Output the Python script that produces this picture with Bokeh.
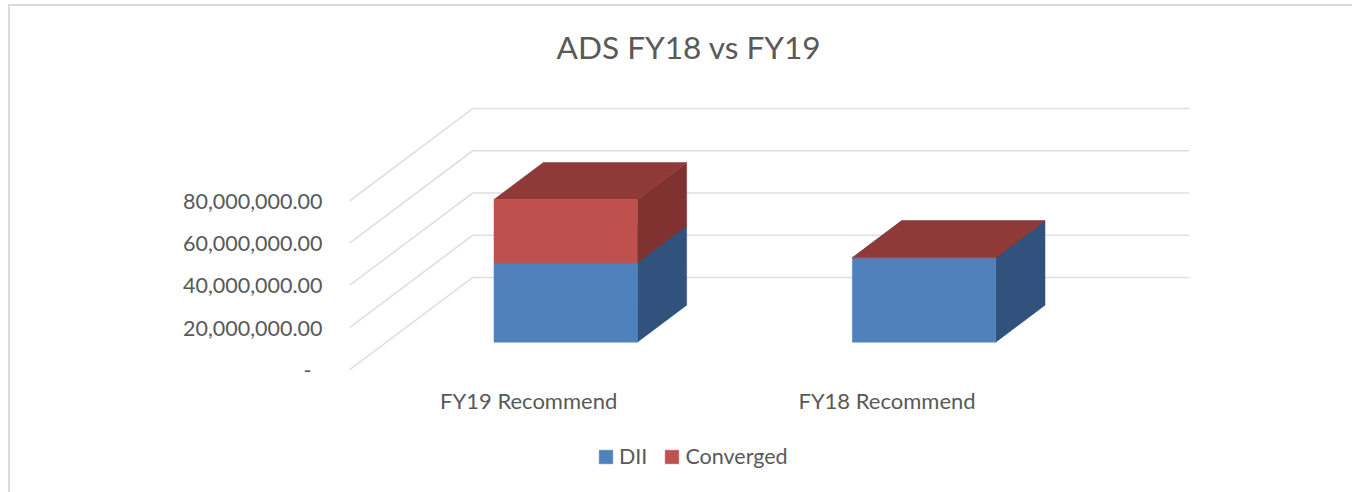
from bokeh.plotting import figure
from bokeh.embed import file_html
from bokeh.resources import INLINE
from bokeh.models import Title, FixedTicker, Legend, LegendItem, Range1d

categories = ["FY19 Recommend", "FY18 Recommend"]
dii = [37600000, 40000000]
converged = [30000000, 0]
y_ticks = [0, 20000000, 40000000, 60000000, 80000000]
y_labels = ["-\u00a0\u00a0", "20,000,000.00", "40,000,000.00", "60,000,000.00", "80,000,000.00"]

TEXT = "#595959"
FONT = "Lato"
# oblique projection of the 3-D chart box
DEPTH_X = 0.344          # category units across the floor
DEPTH_Y = 43800000       # value units across the floor
BAR_W = 0.40
Z_FRONT, Z_BACK = 0.30, 0.70
X_END = 2.344
Y_START, Y_END = -52860000, 125240000

p = figure(width=1344, height=488, output_backend="svg", toolbar_location=None,
           x_range=Range1d(0, X_END), y_range=Range1d(Y_START, Y_END),
           min_border_left=339, min_border_right=165, min_border_top=99, min_border_bottom=13,
           margin=(4, 0, 0, 8), outline_line_color=None, background_fill_color="white",
           styles={"border-top": "2px solid #dcdcdc", "border-left": "2px solid #dcdcdc"})
p.title = Title(text="ADS FY18 vs FY19", align="left", offset=207, vertical_align="top", standoff=0,
                text_font=FONT, text_font_size="31.6px", text_font_style="normal", text_color=TEXT)
# blank band that lifts the title clear of the chart box
p.add_layout(Title(text="\u00a0", standoff=22, text_font_size="12px"), "above")
p.grid.visible = False

p.yaxis.ticker = FixedTicker(ticks=y_ticks)
p.yaxis.major_label_overrides = dict(zip(y_ticks, y_labels))
p.yaxis.major_label_standoff = 21
p.yaxis.major_label_text_font_size = "21.5px"
p.xaxis.ticker = FixedTicker(ticks=[i + 0.5 for i in range(len(categories))])
p.xaxis.major_label_overrides = {i + 0.5: c for i, c in enumerate(categories)}
p.xaxis.major_label_standoff = 9
p.xaxis.fixed_location = -1000000
p.xaxis.major_label_text_font_size = "22px"
for ax in (p.xaxis, p.yaxis):
    ax.axis_line_color = None
    ax.major_tick_line_color = None
    ax.minor_tick_line_color = None
    ax.major_label_text_font = FONT
    ax.major_label_text_color = TEXT

# gridlines: up the side wall, then along the back wall
p.multi_line([[0, DEPTH_X, X_END] for _ in y_ticks],
             [[v, v + DEPTH_Y, v + DEPTH_Y] for v in y_ticks],
             line_color="#dfdfdf", line_width=1.6)

def box(i, lo, hi, front, side, top):
    """Draw one stacked segment as three projected faces."""
    x0 = i + 0.5 - BAR_W / 2
    x1 = x0 + BAR_W
    zf = (Z_FRONT * DEPTH_X, Z_FRONT * DEPTH_Y)
    zb = (Z_BACK * DEPTH_X, Z_BACK * DEPTH_Y)
    xf0, xf1 = x0 + zf[0], x1 + zf[0]
    xb0, xb1 = x0 + zb[0], x1 + zb[0]
    p.patch([xf1, xb1, xb1, xf1], [lo + zf[1], lo + zb[1], hi + zb[1], hi + zf[1]],
            fill_color=side, line_color=side, line_width=0.5)
    p.patch([xf0, xf1, xb1, xb0], [hi + zf[1], hi + zf[1], hi + zb[1], hi + zb[1]],
            fill_color=top, line_color=top, line_width=0.5)
    return p.patch([xf0, xf1, xf1, xf0], [lo + zf[1], lo + zf[1], hi + zf[1], hi + zf[1]],
                   fill_color=front, line_color=front, line_width=0.5)

r_dii = r_conv = None
for i in range(len(categories)):
    r_dii = box(i, 0, dii[i], "#4F81BD", "#30527C", "#30527C")
    r_conv = box(i, dii[i], dii[i] + converged[i], "#C0504D", "#7F3230", "#8F3A38")

legend = Legend(items=[LegendItem(label="DII", renderers=[r_dii]),
                       LegendItem(label="Converged", renderers=[r_conv])],
                orientation="horizontal", location=(248, 12), padding=0, margin=0,
                spacing=16, label_standoff=5, glyph_width=17, glyph_height=17,
                border_line_color=None, background_fill_alpha=0,
                label_text_font=FONT, label_text_font_size="21.5px", label_text_color=TEXT)
p.add_layout(legend, "center")

open("out.html", "w").write(file_html(p, INLINE))
